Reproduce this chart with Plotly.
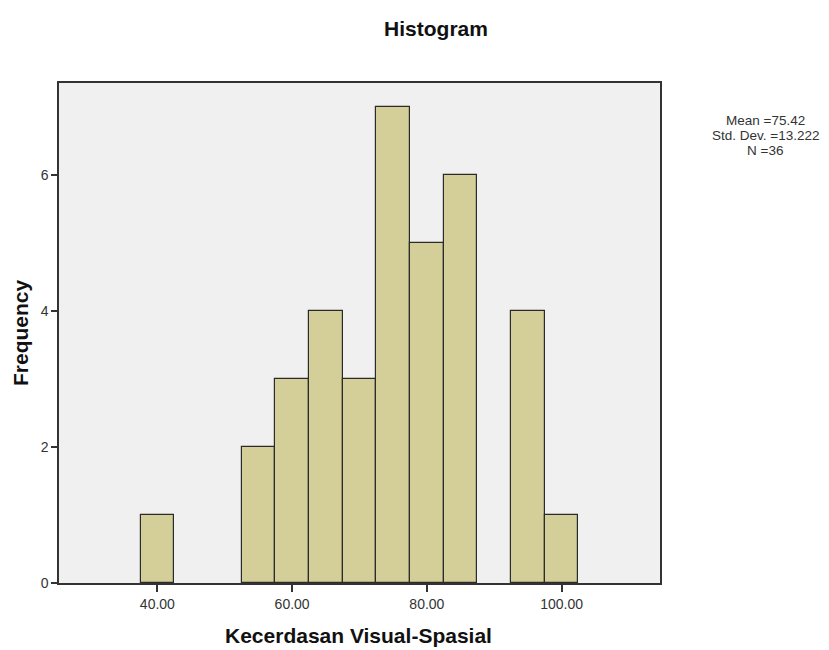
import plotly.graph_objects as go

bin_centers = [40, 55, 60, 65, 70, 75, 80, 85, 95, 100]
frequencies = [1, 2, 3, 4, 3, 7, 5, 6, 4, 1]
bin_width = 5
x_tickvals = [40, 60, 80, 100]
x_ticktext = ["40.00", "60.00", "80.00", "100.00"]
y_tickvals = [0, 2, 4, 6]
stats_text = ["Mean =75.42", "Std. Dev. =13.222", "N =36"]

FONT = "Arial, Liberation Sans, sans-serif"
L, R, T, B = 59, 660, 83, 583
W, H = 829, 650

def px_x(x):
    return (x - L) / (R - L)

def px_y(y):
    return (B - y) / (B - T)

fig = go.Figure()
fig.add_trace(go.Bar(
    x=bin_centers, y=frequencies, width=[bin_width] * len(bin_centers),
    marker=dict(color="#d4cf98", line=dict(color="#2b2b2b", width=1.2)),
    showlegend=False, hoverinfo="x+y",
))

annotations = [
    dict(text="<b>Kecerdasan Visual-Spasial</b>", xref="paper", yref="paper",
         x=px_x(358), y=px_y(635), xanchor="center", yanchor="middle", showarrow=False,
         font=dict(size=21, color="#111", family=FONT)),
    dict(text="<b>Frequency</b>", xref="paper", yref="paper", textangle=-90,
         x=px_x(20), y=px_y(333), xanchor="center", yanchor="middle", showarrow=False,
         font=dict(size=21, color="#111", family=FONT)),
]
for i, line in enumerate(stats_text):
    annotations.append(dict(text=line, xref="paper", yref="paper",
                            x=px_x(765), y=px_y(120.5 + 15 * i),
                            xanchor="center", yanchor="middle", showarrow=False,
                            font=dict(size=13.5, color="#333", family=FONT)))

fig.update_layout(
    width=W, height=H,
    margin=dict(l=L, r=W - R, t=T, b=H - B),
    paper_bgcolor="white", plot_bgcolor="#f0f0f0",
    font=dict(family=FONT, color="#222"),
    bargap=0,
    title=dict(text="<b>Histogram</b>", x=436 / W, xanchor="center",
               y=1 - 29 / H, yanchor="middle", xref="container", yref="container",
               font=dict(size=21, color="#111", family=FONT)),
    xaxis=dict(range=[25.4, 114.6], tickvals=x_tickvals, ticktext=x_ticktext,
               showgrid=False, zeroline=False, showline=True, linecolor="#333",
               linewidth=1.5, mirror=True, ticks="outside", ticklen=7,
               tickcolor="#333", tickwidth=1.5,
               tickfont=dict(size=14, color="#333", family=FONT)),
    yaxis=dict(range=[0, 7.35], tickvals=y_tickvals,
               showgrid=False, zeroline=False, showline=True, linecolor="#333",
               linewidth=1.5, mirror=True, ticks="outside", ticklen=6,
               tickcolor="#333", tickwidth=1.5,
               tickfont=dict(size=14, color="#333", family=FONT)),
    annotations=annotations,
)

fig.write_html("out.html", config={"displayModeBar": False},
               post_script="document.body.style.margin='0';document.body.style.overflow='hidden';")
